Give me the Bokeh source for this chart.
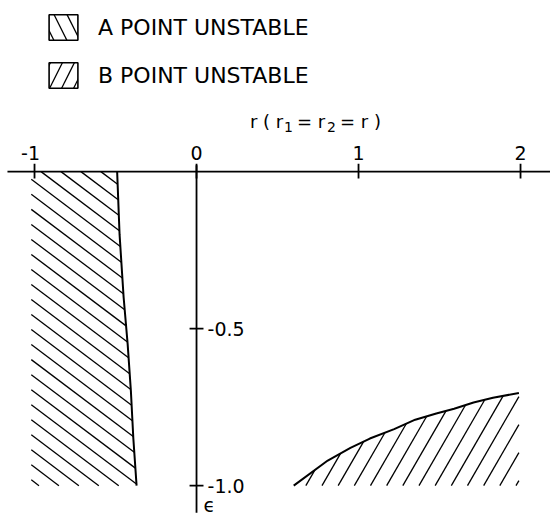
import numpy as np
from bokeh.plotting import figure
from bokeh.models import Range1d, Legend, LegendItem
from bokeh.core.properties import value
from bokeh.embed import file_html
from bokeh.resources import INLINE

# axis ticks
r_ticks = [-1, 0, 1, 2]
r_tick_labels = ["-1", "0", "1", "2"]
eps_ticks = [-0.5, -1.0]
eps_tick_labels = ["-0.5", "-1.0"]

# stability boundary of point A: r along the boundary for each eps
boundary_a_eps = [0.0, -0.2, -0.4, -0.55, -0.7, -0.85, -1.0]
boundary_a_r = [-0.49, -0.475, -0.45, -0.425, -0.405, -0.39, -0.37]

# stability boundary of point B
boundary_b_r = [0.6, 0.81, 0.95, 1.07, 1.22, 1.35, 1.48, 1.59, 1.71, 1.83, 1.99]
boundary_b_eps = [-1.0, -0.92, -0.88, -0.85, -0.82, -0.79, -0.77, -0.755, -0.735, -0.72, -0.705]

# extent of the explored parameter plane
r_left = -1.02
eps_bottom = -1.0

FONT_NAME = "DejaVu Sans"
FONT = value(FONT_NAME)
INK = "black"

W, H = 550, 520
XR = (-1.21, 2.185)
YR = (-1.111, 0.545)
SX = W / (XR[1] - XR[0])   # pixels per unit of r
SY = H / (YR[1] - YR[0])   # pixels per unit of eps


def hatch_lines(poly_r, poly_e, angle_deg, spacing_px, phase=0.0):
    """Parallel hatch strokes clipped to a polygon, at a fixed screen angle."""
    px = (np.asarray(poly_r, float) - XR[0]) * SX
    py = (np.asarray(poly_e, float) - YR[0]) * SY
    th = np.radians(angle_deg)
    d = np.array([np.cos(th), np.sin(th)])
    n = np.array([-np.sin(th), np.cos(th)])
    proj = px * n[0] + py * n[1]
    along = px * d[0] + py * d[1]
    m = len(px)
    out = ([], [], [], [])
    c = np.floor((proj.min() - phase) / spacing_px) * spacing_px + phase
    while c <= proj.max():
        ts = []
        for i in range(m):
            j = (i + 1) % m
            pa, pb = proj[i], proj[j]
            if (pa <= c < pb) or (pb <= c < pa):
                s = (c - pa) / (pb - pa)
                ts.append(along[i] + s * (along[j] - along[i]))
        ts.sort()
        for k in range(0, len(ts) - 1, 2):
            for t, (xs, ys) in ((ts[k], (out[0], out[1])), (ts[k + 1], (out[2], out[3]))):
                sx_, sy_ = c * n + t * d
                xs.append(sx_ / SX + XR[0])
                ys.append(sy_ / SY + YR[0])
        c += spacing_px
    return out


p = figure(width=W, height=H, output_backend="svg", toolbar_location=None,
           x_range=Range1d(*XR), y_range=Range1d(*YR),
           x_axis_location=None, y_axis_location=None, min_border=0,
           outline_line_color=None)
p.grid.visible = False

# region where point A is unstable
a_xs = [r_left] + boundary_a_r + [r_left]
a_ys = [boundary_a_eps[0]] + boundary_a_eps + [eps_bottom]
ax0, ay0, ax1, ay1 = hatch_lines(a_xs, a_ys, -37, 12, phase=3)
p.segment(x0=ax0, y0=ay0, x1=ax1, y1=ay1, line_color=INK, line_width=1.3)
p.line(boundary_a_r, boundary_a_eps, line_color=INK, line_width=2)

# region where point B is unstable
b_xs = boundary_b_r + [boundary_b_r[-1]]
b_ys = boundary_b_eps + [eps_bottom]
bx0, by0, bx1, by1 = hatch_lines(b_xs, b_ys, 60, 14, phase=5)
p.segment(x0=bx0, y0=by0, x1=bx1, y1=by1, line_color=INK, line_width=1.3)
p.line(boundary_b_r, boundary_b_eps, line_color=INK, line_width=2)

# horizontal r axis (eps = 0) and vertical eps axis (r = 0)
p.segment(x0=[-1.167], y0=[0], x1=[XR[1]], y1=[0], line_color=INK, line_width=1.8)
p.segment(x0=[0], y0=[0.02], x1=[0], y1=[-1.086], line_color=INK, line_width=1.8)

# tick marks
p.segment(x0=r_ticks, y0=[0.025] * len(r_ticks), x1=r_ticks, y1=[-0.022] * len(r_ticks),
          line_color=INK, line_width=1.8)
p.segment(x0=[-0.043] * len(eps_ticks), y0=eps_ticks, x1=[0.043] * len(eps_ticks), y1=eps_ticks,
          line_color=INK, line_width=1.8)

# tick labels (the minus of "-1" hangs left of its tick)
p.text(x=r_ticks, y=[0] * len(r_ticks), text=r_tick_labels,
       x_offset=[-4, 0, 0, 0], y_offset=-19,
       text_align="center", text_baseline="middle", text_font=FONT,
       text_font_size="19px", text_color=INK)
p.text(x=[0] * len(eps_ticks), y=eps_ticks, text=eps_tick_labels, x_offset=11,
       text_align="left", text_baseline="middle", text_font=FONT,
       text_font_size="19px", text_color=INK)

# r-axis title, r ( r1 = r2 = r ), set piece by piece so the indices read clearly
title_main = ["r ( r", "= r", "= r )"]
title_main_dx = [0, 47, 90]
title_sub = ["1", "2"]
title_sub_dx = [34, 77]
p.text(x=[0.33] * len(title_main), y=[0] * len(title_main), text=title_main,
       x_offset=title_main_dx, y_offset=-50, text_align="left", text_baseline="alphabetic",
       text_font=FONT, text_font_size="18px", text_color=INK)
p.text(x=[0.33] * len(title_sub), y=[0] * len(title_sub), text=title_sub,
       x_offset=title_sub_dx, y_offset=-45, text_align="left", text_baseline="alphabetic",
       text_font=FONT, text_font_size="14px", text_color=INK)

# eps-axis title
p.text(x=[0], y=[-1.086], text=["\u03f5"], x_offset=7, y_offset=3,
       text_align="left", text_baseline="bottom", text_font=FONT,
       text_font_size="19px", text_color=INK)

# legend swatches (off-canvas placeholders, used only for their styling)
nan = [float("nan")]
sw_a = p.quad(left=nan, right=nan, top=nan, bottom=nan, fill_color=None,
              line_color=INK, line_width=1.6,
              hatch_pattern="left_diagonal_line", hatch_color=INK,
              hatch_scale=26, hatch_weight=1.3)
sw_b = p.quad(left=nan, right=nan, top=nan, bottom=nan, fill_color=None,
              line_color=INK, line_width=1.6,
              hatch_pattern="right_diagonal_line", hatch_color=INK,
              hatch_scale=24, hatch_weight=1.3)

legend = Legend(items=[LegendItem(label="A POINT UNSTABLE", renderers=[sw_a]),
                       LegendItem(label="B POINT UNSTABLE", renderers=[sw_b])],
                location=(45, 429), glyph_width=36, glyph_height=32,
                label_standoff=17, spacing=16, padding=0, margin=0,
                border_line_color=None, background_fill_alpha=0,
                label_text_font=FONT_NAME, label_text_font_size="22px",
                label_text_color=INK)
p.add_layout(legend)

open("out.html", "w").write(file_html(p, INLINE))
